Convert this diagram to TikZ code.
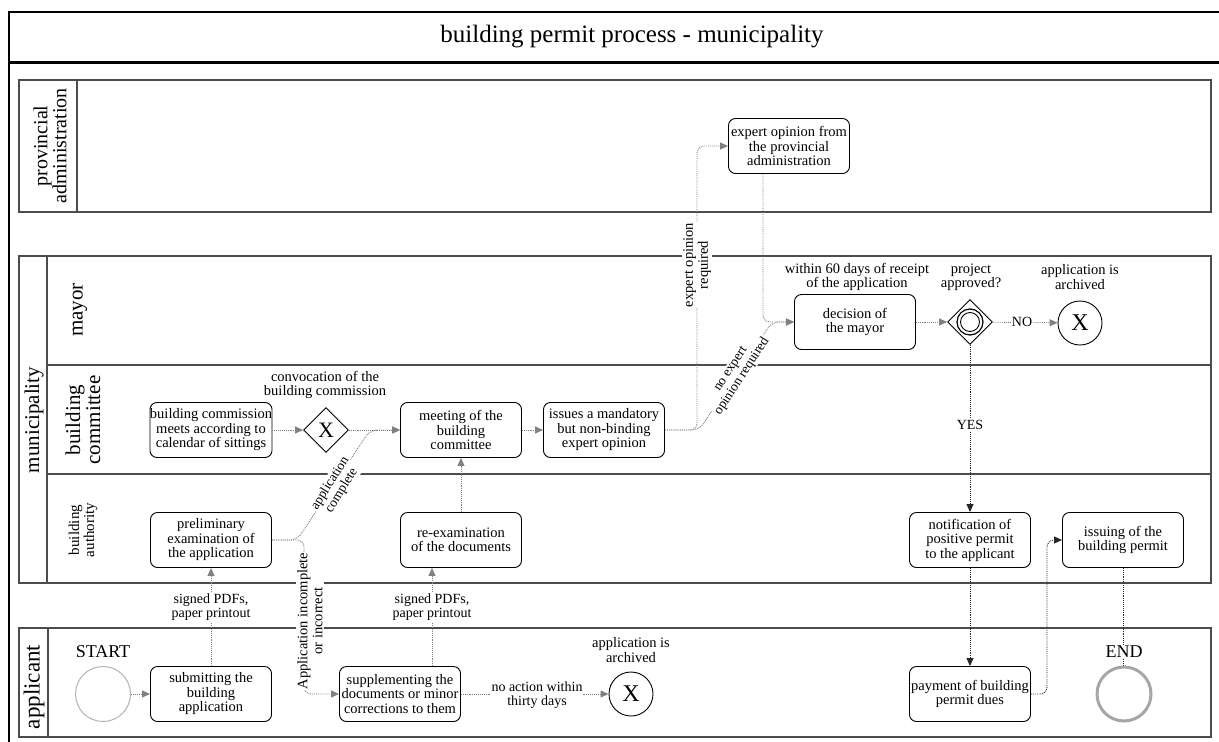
\documentclass[tikz,border=0pt]{standalone}
\usepackage{fontspec}
\setmainfont{Liberation Serif}
\usetikzlibrary{arrows.meta,shapes.geometric}
\begin{document}
\begin{tikzpicture}[x=1pt,y=-1pt,
 box/.style={draw=black,line width=0.9pt,rounded corners=7pt,minimum width=121pt,minimum height=55pt,align=center,inner xsep=0pt,inner ysep=1pt,fill=white,font=\fontsize{14.5}{14.5}\selectfont},
 gate/.style={diamond,draw=black,line width=0.9pt,minimum width=45pt,minimum height=45pt,inner sep=0pt,fill=white,font=\fontsize{22}{22}\selectfont},
 endx/.style={circle,draw=black,line width=0.9pt,minimum size=44pt,inner sep=0pt,fill=white,font=\fontsize{24}{24}\selectfont},
 conn/.style={draw=black!50,line width=0.9pt,densely dotted,rounded corners=7pt,-{Triangle[length=8pt,width=7pt]}},
 connk/.style={draw=black!85,line width=0.9pt,densely dotted,rounded corners=7pt,-{Triangle[length=8pt,width=7pt]}},
 plainc/.style={draw=black!50,line width=0.9pt,densely dotted},
 lbl/.style={fill=white,inner sep=1pt,align=center,font=\fontsize{14}{14.5}\selectfont},
 note/.style={align=center,inner sep=0pt,font=\fontsize{14.5}{14.5}\selectfont},
 pool/.style={draw=black!70,line width=1.3pt},
 lane/.style={font=\fontsize{21}{20}\selectfont,rotate=90,align=center,inner sep=0pt},
]
\useasboundingbox (0,0) rectangle (1219,742);
% outer frame and title
\draw[line width=1.6pt] (9,742) -- (9,12) -- (1219,12);
\draw[line width=3pt] (9,62) -- (1219,62);
\node[font=\fontsize{25}{25}\selectfont] (title) at (632,37) {building permit process - municipality};
% pools and lanes
\draw[pool] (19,80) rectangle (1211,212);
\draw[pool] (77,80) -- (77,212);
\draw[pool] (19,256) rectangle (1211,583);
\draw[pool] (47,256) -- (47,583);
\draw[pool] (47,365) -- (1211,365);
\draw[pool] (47,474) -- (1211,474);
\draw[pool] (19,628) rectangle (1211,737);
\draw[pool] (48,628) -- (48,737);
\node[lane,font=\fontsize{20}{19}\selectfont] (lprov) at (50,146) {provincial\\administration};
\node[lane] (lmun) at (34,420) {municipality};
\node[lane] (lmayor) at (80,310) {mayor};
\node[lane] (lcomm) at (83,420) {building\\committee};
\node[lane,font=\fontsize{15}{15}\selectfont] (lauth) at (83,530) {building\\authority};
\node[lane,font=\fontsize{23}{23}\selectfont] (lappl) at (34,687) {applicant};
% applicant
\node[circle,draw=black!30,line width=1pt,minimum size=55pt] (startc) at (103,694) {};
\node[box] (submit) at (211,694) {submitting the\\building\\application};
\node[box] (supplement) at (400,694) {supplementing the\\documents or minor\\corrections to them};
\node[endx] (arch1) at (631,694) {X};
\node[box] (payment) at (970,694) {payment of building\\permit dues};
\node[circle,draw=black!35,line width=3pt,minimum size=54pt] (endc) at (1124,694) {};
% building authority
\node[box] (prelim) at (211,540) {preliminary\\examination of\\the application};
\node[box] (reexam) at (461,540) {re-examination\\of the documents};
\node[box] (notif) at (970,540) {notification of\\positive permit\\to the applicant};
\node[box] (issuing) at (1123,540) {issuing of the\\building permit};
% building committee
\node[box] (commission) at (211,430) {building commission\\meets according to\\calendar of sittings};
\node[gate] (gwx) at (326,430) {X};
\node[box] (meeting) at (461,430) {meeting of the\\building\\committee};
\node[box] (issues) at (604,430) {issues a mandatory\\but non-binding\\expert opinion};
% mayor
\node[box] (decision) at (855,322) {decision of\\the mayor};
\node[gate] (gwo) at (970,322) {};
\draw[line width=1.2pt] (gwo.center) circle[radius=13pt];
\draw[line width=0.9pt] (gwo.center) circle[radius=9.5pt];
\node[endx] (arch2) at (1080,323) {X};
% provincial
\node[box] (expert) at (789,146) {expert opinion from\\the provincial\\administration};
% helper coordinates
\coordinate (x2) at (432,607);
\coordinate (m2) at (763,322);
% connectors
\draw[conn] (startc) -- (submit);
\draw[conn] (submit.north) -- (prelim.south);
\draw[conn] (prelim.east) -- (297,540) -- (370,430) -- (meeting.west);
\draw[conn] (prelim.east) -- (304,540) -- (304,694) -- (supplement.west);
\draw[conn] (commission) -- (gwx);
\draw[conn] (gwx) -- (meeting);
\draw[conn] (x2 |- supplement.north) -- (x2 |- reexam.south);
\draw[conn] (reexam) -- (meeting);
\draw[conn] (supplement) -- (arch1);
\draw[conn] (meeting) -- (issues);
\draw[conn] (issues.east) -- (697,430) -- (697,146) -- (expert.west);
\draw[conn] (issues.east) -- (699,430) -- (772,322) -- (decision.west);
\draw[conn] (expert.south -| m2) -- (m2) -- (decision.west);
\draw[conn] (decision) -- (gwo);
\draw[conn] (gwo) -- (arch2);
\draw[connk] (gwo.south) -- (notif.north);
\draw[connk] (notif) -- (payment);
\draw[connk] (payment.east) -- (1047,694) -- (1047,540) -- (issuing.west);
\draw[draw=black!85,line width=0.9pt,densely dotted] (issuing.south) -- (issuing.south |- endc.north);
% labels
\node[note,font=\fontsize{18}{18}\selectfont] (startl) at (103,652) {START};
\node[note,fill=white,inner sep=1pt,font=\fontsize{18}{18}\selectfont] (endl) at (1124,652) {END};
\node[lbl] (sig1) at (211,607) {signed PDFs,\\paper printout};
\node[lbl] (sig2) at (x2) {signed PDFs,\\paper printout};
\node[lbl,rotate=90,font=\fontsize{14.5}{15}\selectfont] (incompl) at (310,621) {Application incomplete\\or incorrect};
\node[lbl,rotate=58,font=\fontsize{13.5}{13.5}\selectfont] (compl) at (336,487) {application\\complete};
\node[lbl] (noaction) at (537,695) {no action within\\thirty days};
\node[note] (arch1l) at (631,650) {application is\\archived};
\node[note] (convl) at (325,385) {convocation of the\\building commission};
\node[lbl,rotate=90,font=\fontsize{14.5}{15}\selectfont] (expreq) at (697,265) {expert opinion\\required};
\node[lbl,rotate=57,font=\fontsize{13.5}{13.5}\selectfont] (noexpreq) at (737,373) {no expert\\opinion required};
\node[note] (withinl) at (857,277) {within 60 days of receipt\\of the application};
\node[note] (projl) at (971,277) {project\\approved?};
\node[note] (arch2l) at (1080,277) {application is\\archived};
\node[lbl] (nol) at (1022,322) {NO};
\node[lbl] (yesl) at (970,425) {YES};
\end{tikzpicture}
\end{document}
